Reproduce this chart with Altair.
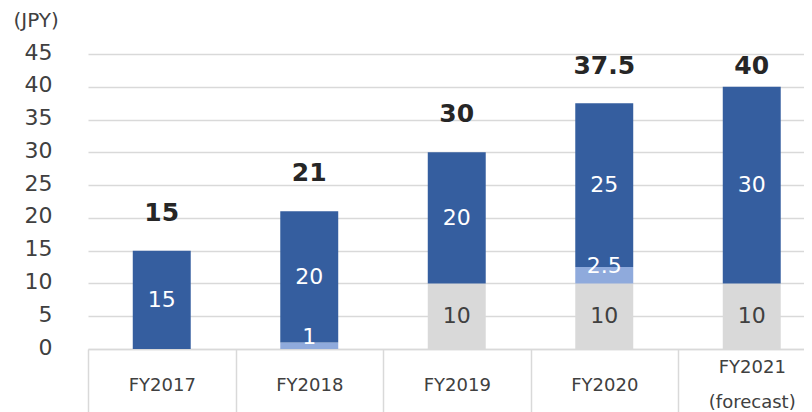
import altair as alt
import pandas as pd

years = ["FY2017", "FY2018", "FY2019", "FY2020", "FY2021 (forecast)"]
grey_vals = [0, 0, 10, 10, 10]
light_vals = [0, 1, 0, 2.5, 0]
dark_vals = [15, 20, 20, 25, 30]
totals = [15, 21, 30, 37.5, 40]
y_ticks = [0, 5, 10, 15, 20, 25, 30, 35, 40, 45]

seg_names = ["grey", "light", "dark"]
seg_colors = ["#D9D9D9", "#8FAADC", "#355E9F"]

rows = []
for i, yr in enumerate(years):
    for order, (seg, vals) in enumerate(zip(seg_names, (grey_vals, light_vals, dark_vals))):
        v = vals[i]
        if v > 0:
            rows.append({"year": yr, "seg": seg, "value": v, "ord": order, "label": f"{v:g}"})
seg_df = pd.DataFrame(rows)
tot_df = pd.DataFrame({"year": years, "total": totals, "label": [f"{t:g}" for t in totals]})

FONT = "DejaVu Sans"
GRID = "#D9D9D9"
TXT = "#404040"

xaxis = alt.Axis(
    title=None, labelExpr="split(datum.label, ' ')", labelAngle=0, labelFontSize=18,
    labelColor=TXT, labelFont=FONT, labelLineHeight=35, labelBaseline="middle",
    labelPadding={"condition": {"test": "indexof(datum.label, ' ') >= 0", "value": -52}, "value": -34},
    labelAlign="center", tickBand="extent", tickSize=70,
    tickColor=GRID, tickWidth=1.5, domainColor=GRID, domainWidth=1.5, grid=False,
)
xenc = alt.X("year:N", sort=years,
             scale=alt.Scale(paddingInner=0, paddingOuter=0), axis=xaxis)

yaxis = alt.Axis(
    values=y_ticks, title="(JPY)", titleAngle=0, titleAlign="left", titleBaseline="middle",
    titleX=-75, titleY=-34, titleFontSize=20, titleFontWeight="normal", titleColor=TXT,
    titleFont=FONT, labelFontSize=22, labelColor=TXT, labelFont=FONT, labelPadding=36,
    ticks=False, domain=False, gridColor=GRID, gridWidth=1.5, labelOffset=-2,
)
yscale = alt.Scale(domain=[0, 45], nice=False)

base = alt.Chart(seg_df).transform_stack(
    stack="value", groupby=["year"], as_=["y0", "y1"], sort=[alt.SortField("ord")]
).transform_calculate(mid="(datum.y0 + datum.y1) / 2")

bars = base.mark_bar(width=alt.RelativeBandSize(0.393)).encode(
    x=xenc,
    y=alt.Y("y0:Q", scale=yscale, axis=yaxis),
    y2="y1:Q",
    color=alt.Color("seg:N", scale=alt.Scale(domain=seg_names, range=seg_colors), legend=None),
)

txt_color = alt.condition(alt.datum.seg == "grey", alt.value(TXT), alt.value("white"))

inner = base.transform_filter("datum.value >= 3").mark_text(
    font=FONT, fontSize=22, baseline="middle"
).encode(
    x=xenc, y=alt.Y("mid:Q", scale=yscale, axis=yaxis), text="label:N", color=txt_color,
)

small = base.transform_filter("datum.value < 3").mark_text(
    font=FONT, fontSize=22, baseline="middle", dy=-9
).encode(
    x=xenc, y=alt.Y("mid:Q", scale=yscale, axis=yaxis), text="label:N", color=txt_color,
)

tot = alt.Chart(tot_df).transform_calculate(
    pos="min(datum.total + 5.8, 43.2)"
).mark_text(font=FONT, fontSize=25, fontWeight="bold", color="#262626", baseline="middle").encode(
    x=xenc, y=alt.Y("pos:Q", scale=yscale, axis=yaxis), text="label:N",
)

chart = alt.layer(bars, inner, small, tot).properties(
    width=737.5, height=295,
    padding={"left": 80, "top": 46, "right": -21.5, "bottom": 63},
    autosize=alt.AutoSizeParams(type="none"),
).configure_view(stroke=None)

chart.save("out.html", embed_options={"renderer": "svg", "actions": False})
